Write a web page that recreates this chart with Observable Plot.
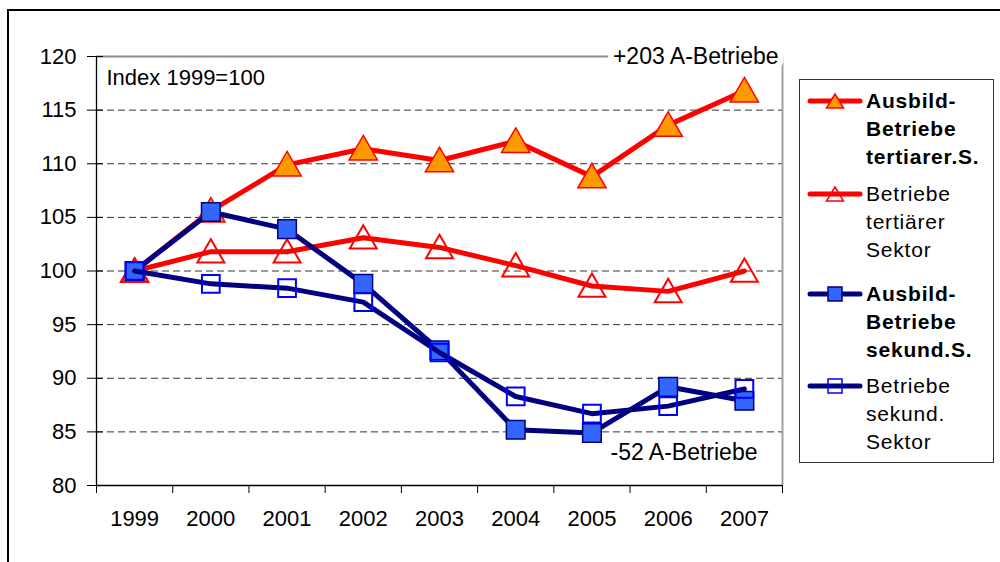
<!DOCTYPE html>
<html>
<head>
<meta charset="utf-8">
<script src="https://cdn.jsdelivr.net/npm/d3@7"></script>
<script src="https://cdn.jsdelivr.net/npm/@observablehq/plot@0.6"></script>
<style>
  html, body { margin: 0; padding: 0; background: #fff; overflow: hidden; }
  body { width: 1000px; height: 562px; position: relative; font-family: "Liberation Sans", Arial, sans-serif; }
  #frame { position: absolute; left: 7px; top: 9px; width: 1010px; height: 600px; border: 2px solid #000; box-sizing: border-box; pointer-events: none; }
  #chart { position: absolute; left: 0; top: 0; }
  #legend { position: absolute; left: 799px; top: 79px; width: 195px; height: 384px; border: 1px solid #333; box-sizing: border-box; background: #fff; }
  .entry { position: absolute; left: 7px; }
  .entry svg { position: absolute; left: 0; top: 4px; }
  .entry .txt { position: absolute; left: 59px; top: 0; font-size: 21px; line-height: 28px; letter-spacing: 0.8px; white-space: nowrap; color: #000; }
  .bold { font-weight: bold; }
</style>
</head>
<body>
<div id="chart"></div>
<div id="legend"></div>
<div id="frame"></div>
<script>
// ---- data ----
const years = [1999, 2000, 2001, 2002, 2003, 2004, 2005, 2006, 2007];
const ausbildTertiaer = [100, 105.6, 109.9, 111.4, 110.3, 112.1, 108.8, 113.6, 116.8];
const betriebeTertiaer = [100, 101.8, 101.8, 103.1, 102.2, 100.5, 98.6, 98.1, 100.0];
const ausbildSekund = [100, 105.5, 103.9, 98.8, 92.6, 85.2, 84.9, 89.2, 87.9];
const betriebeSekund = [100, 98.8, 98.4, 97.1, 92.4, 88.3, 86.7, 87.4, 89.0];
const yTicks = [80, 85, 90, 95, 100, 105, 110, 115, 120];
const seriesNames = [
  "Ausbild-\nBetriebe\ntertiarer.S.",
  "Betriebe\ntertiärer\nSektor",
  "Ausbild-\nBetriebe\nsekund.S.",
  "Betriebe\nsekund.\nSektor"
];
const annotTop = "+203 A-Betriebe";
const annotBottom = "-52 A-Betriebe";
const indexNote = "Index 1999=100";

// ---- build table ----
const toRows = (vals) => years.map((year, i) => ({year, value: vals[i]}));
const sAT = toRows(ausbildTertiaer);
const sBT = toRows(betriebeTertiaer);
const sAS = toRows(ausbildSekund);
const sBS = toRows(betriebeSekund);

const boundaries = [years[0] - 0.5, ...years.map(y => y + 0.5)];
const xDomain = [boundaries[0], boundaries[boundaries.length - 1]];
const gridVals = yTicks.slice(1, -1);

const RED = "#FF0000", NAVY = "#000080", ORANGE = "#FF9900", BLUE = "#0000FF", LBLUE = "#3366FF";

const chart = Plot.plot({
  width: 1000,
  height: 562,
  marginLeft: 96,
  marginRight: 218,
  marginTop: 56,
  marginBottom: 77,
  style: {fontFamily: "'Liberation Sans', Arial, sans-serif", fontSize: "22px", color: "#000", background: "transparent"},
  x: {domain: xDomain, label: null},
  y: {domain: [yTicks[0], yTicks[yTicks.length - 1]], label: null},
  marks: [
    // dashed gridlines
    Plot.ruleY(gridVals, {stroke: "#333", strokeWidth: 1, strokeDasharray: "7,4"}),
    // plot area border (top, right)
    Plot.ruleY([yTicks[yTicks.length - 1]], {stroke: "#8c8c8c", strokeWidth: 2}),
    Plot.ruleX([xDomain[1]], {stroke: "#a0a0a0", strokeWidth: 2}),
    // axis lines
    Plot.ruleX([xDomain[0]], {stroke: "#000", strokeWidth: 1.3}),
    Plot.ruleY([yTicks[0]], {stroke: "#000", strokeWidth: 1.3}),
    // axes
    Plot.axisY(yTicks, {tickSize: 9, tickPadding: 11, fontSize: 22, label: null}),
    Plot.axisY(yTicks, {tickSize: -7, tickFormat: () => "", label: null}),
    Plot.axisX(boundaries, {tickSize: 8, tickFormat: () => "", label: null}),
    Plot.axisX(years, {tickSize: 0, tickPadding: 25, tickFormat: d => String(d), fontSize: 22, label: null}),
    // series 1: Ausbild-Betriebe tertiär
    Plot.line(sAT, {x: "year", y: "value", stroke: RED, strokeWidth: 5, strokeLinejoin: "round"}),
    Plot.dot(sAT, {x: "year", y: "value", symbol: "triangle", r: 10.5, dy: 3, fill: ORANGE, stroke: RED, strokeWidth: 1.5}),
    // series 2: Betriebe tertiär
    Plot.line(sBT, {x: "year", y: "value", stroke: RED, strokeWidth: 5, strokeLinejoin: "round"}),
    Plot.dot(sBT, {x: "year", y: "value", symbol: "triangle", r: 10, dy: 3, fill: "none", stroke: RED, strokeWidth: 2}),
    // series 3: Ausbild-Betriebe sekundär
    Plot.line(sAS, {x: "year", y: "value", stroke: NAVY, strokeWidth: 5, strokeLinejoin: "round"}),
    Plot.dot(sAS, {x: "year", y: "value", symbol: "square", r: 10.5, fill: LBLUE, stroke: NAVY, strokeWidth: 1.5}),
    // series 4: Betriebe sekundär
    Plot.line(sBS, {x: "year", y: "value", stroke: NAVY, strokeWidth: 5, strokeLinejoin: "round"}),
    Plot.dot(sBS, {x: "year", y: "value", symbol: "square", r: 10, fill: "none", stroke: BLUE, strokeWidth: 2}),
    // annotations
    Plot.text([annotTop], {frameAnchor: "top-right", text: d => d, textAnchor: "end", lineAnchor: "middle", dx: -4, dy: 0, fontSize: 23, fill: "#000", stroke: "#fff", strokeWidth: 12, letterSpacing: 0.4}),
    Plot.text([annotBottom], {frameAnchor: "bottom-right", text: d => d, textAnchor: "end", lineAnchor: "middle", dx: -25, dy: -33, fontSize: 23, fill: "#000", letterSpacing: 0.3}),
    Plot.text([indexNote], {frameAnchor: "top-left", text: d => d, textAnchor: "start", lineAnchor: "middle", dx: 10, dy: 21, fontSize: 22, fill: "#000"})
  ]
});
document.getElementById("chart").appendChild(chart);

// ---- legend ----
const legendSpec = [
  {name: seriesNames[0], bold: true, stroke: RED, marker: "tri", fill: ORANGE, mstroke: RED, top: 7},
  {name: seriesNames[1], bold: false, stroke: RED, marker: "tri", fill: "none", mstroke: RED, top: 100},
  {name: seriesNames[2], bold: true, stroke: NAVY, marker: "sq", fill: LBLUE, mstroke: NAVY, top: 200},
  {name: seriesNames[3], bold: false, stroke: NAVY, marker: "sq", fill: "none", mstroke: BLUE, top: 292}
];
const legend = document.getElementById("legend");
for (const e of legendSpec) {
  const div = document.createElement("div");
  div.className = "entry";
  div.style.top = e.top + "px";
  const markerSvg = e.marker === "tri"
    ? `<path d="M28,3 L36.5,17 L19.5,17 Z" fill="${e.fill}" stroke="${e.mstroke}" stroke-width="1.5"/>`
    : `<rect x="21" y="3" width="14" height="14" fill="${e.fill === "none" ? "none" : e.fill}" stroke="${e.mstroke}" stroke-width="1.5"/>`;
  div.innerHTML =
    `<svg width="56" height="20" viewBox="0 0 56 20"><line x1="3" y1="10" x2="53" y2="10" stroke="${e.stroke}" stroke-width="5" stroke-linecap="round"/>${markerSvg}</svg>` +
    `<div class="txt ${e.bold ? "bold" : ""}">${e.name.split("\n").join("<br>")}</div>`;
  legend.appendChild(div);
}
</script>
</body>
</html>
